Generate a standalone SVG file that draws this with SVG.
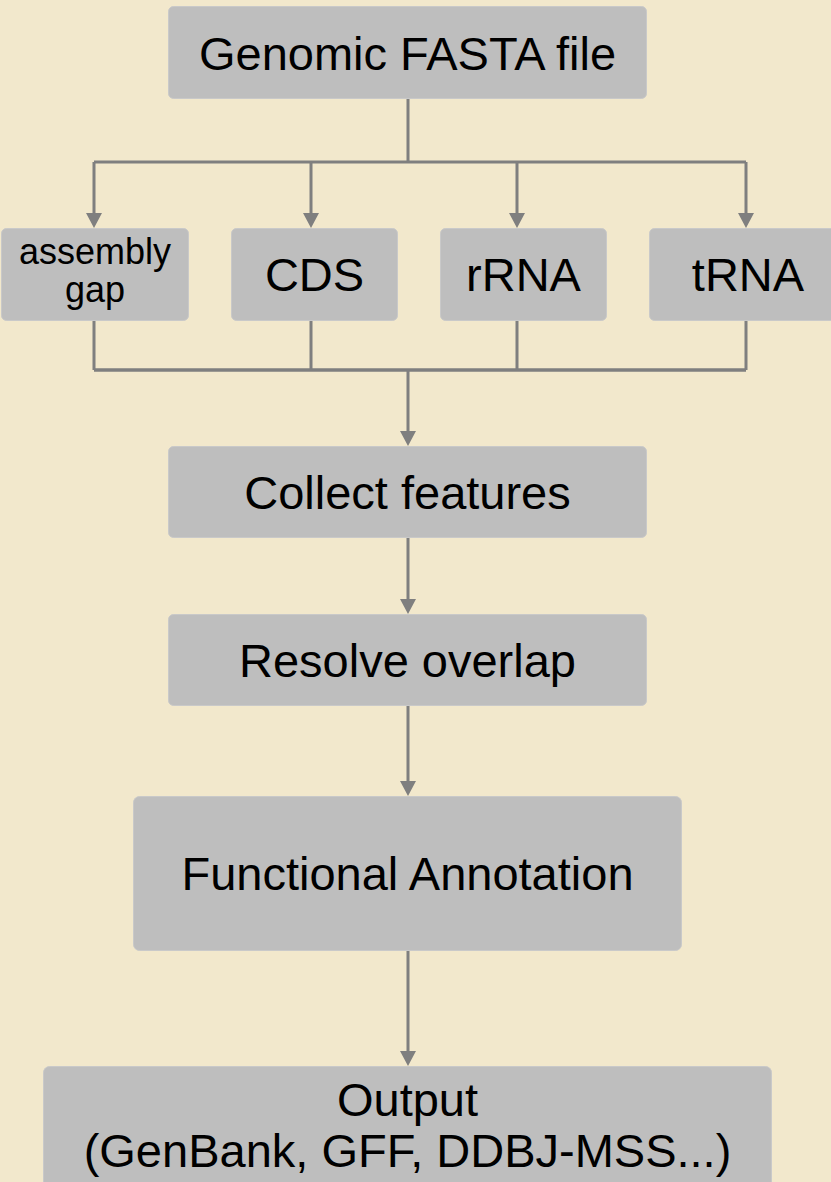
<svg xmlns="http://www.w3.org/2000/svg" width="831" height="1182" viewBox="0 0 831 1182">
<style>
.box{fill:#bebebe;stroke:#c9c9c9;stroke-width:1}
.t{font-family:"Liberation Sans",Arial,Helvetica,sans-serif;font-size:47px;fill:#000;text-anchor:middle}
.s{font-size:36px}
.ln{fill:none;stroke:#7f7f7f;stroke-width:3}
</style>
<defs>
<marker id="ah" markerUnits="userSpaceOnUse" markerWidth="16" markerHeight="16" viewBox="0 0 15 16" refX="0" refY="8" orient="auto">
<path d="M0,0 L15,8 L0,16 z" fill="#7f7f7f"/>
</marker>
</defs>
<rect width="831" height="1182" fill="#f2e8cc"/>
<g id="connectors">
<path class="ln" d="M408,99 V162 M94,162 H746"/>
<path class="ln" d="M94,162 V213" marker-end="url(#ah)"/>
<path class="ln" d="M311,162 V213" marker-end="url(#ah)"/>
<path class="ln" d="M517,162 V213" marker-end="url(#ah)"/>
<path class="ln" d="M746,162 V213" marker-end="url(#ah)"/>
<path class="ln" d="M94,321 V370 M311,321 V370 M517,321 V370 M746,321 V370"/>
<path class="ln" d="M94,370 H746" style="stroke-width:3.5"/>
<path class="ln" d="M408,370 V431" marker-end="url(#ah)"/>
<path class="ln" d="M408,538 V599" marker-end="url(#ah)"/>
<path class="ln" d="M408,706 V781" marker-end="url(#ah)"/>
<path class="ln" d="M408,951 V1051" marker-end="url(#ah)"/>
</g>
<g id="genomic">
<rect class="box" x="168.5" y="6.5" width="478" height="92" rx="5"/>
<text class="t" x="407.5" y="70">Genomic FASTA file</text>
</g>
<g id="assembly-gap">
<rect class="box" x="1.5" y="228.5" width="187" height="92" rx="5"/>
<text class="t s" x="95" y="264">assembly</text>
<text class="t s" x="95" y="302">gap</text>
</g>
<g id="cds">
<rect class="box" x="231.5" y="228.5" width="166" height="92" rx="5"/>
<text class="t" x="314.5" y="291">CDS</text>
</g>
<g id="rrna">
<rect class="box" x="440.5" y="228.5" width="166" height="92" rx="5"/>
<text class="t" x="523.5" y="291">rRNA</text>
</g>
<g id="trna">
<rect class="box" x="649.5" y="228.5" width="196" height="92" rx="5"/>
<text class="t" x="748" y="291">tRNA</text>
</g>
<g id="collect">
<rect class="box" x="168.5" y="446.5" width="478" height="91" rx="5"/>
<text class="t" x="407.5" y="509">Collect features</text>
</g>
<g id="resolve">
<rect class="box" x="168.5" y="614.5" width="478" height="91" rx="5"/>
<text class="t" x="407.5" y="677">Resolve overlap</text>
</g>
<g id="functional">
<rect class="box" x="133.5" y="796.5" width="548" height="154" rx="6"/>
<text class="t" x="407.5" y="890">Functional Annotation</text>
</g>
<g id="output">
<rect class="box" x="43.5" y="1066.5" width="728" height="140" rx="6"/>
<text class="t" x="407.5" y="1116">Output</text>
<text class="t" x="407.5" y="1167">(GenBank, GFF, DDBJ-MSS...)</text>
</g>
</svg>
